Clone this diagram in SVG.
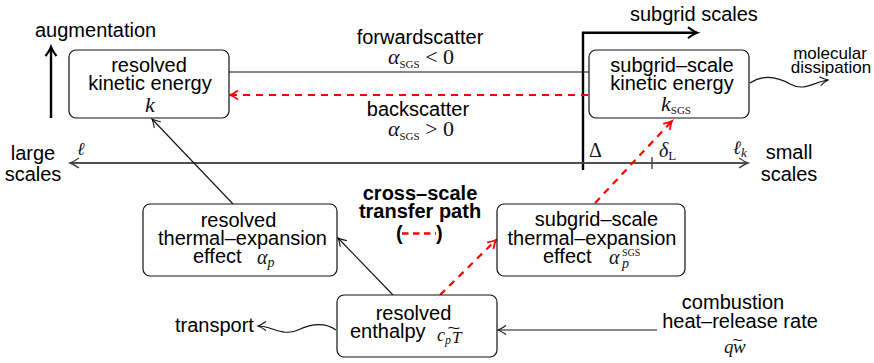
<svg xmlns="http://www.w3.org/2000/svg" width="874" height="363" viewBox="0 0 874 363">
<style>
.t{font-family:"Liberation Sans",Arial,sans-serif;font-size:20px;fill:#000}
.c{text-anchor:middle}
.b{font-weight:bold}
.m{font-family:"Liberation Serif","DejaVu Serif",serif;font-style:italic;font-size:22px;fill:#111}
.rm{font-style:normal}
.box{fill:#fff;stroke:#111;stroke-width:1.2}
.thin{fill:none;stroke:#111;stroke-width:1.1}
.thick{fill:none;stroke:#000;stroke-width:2.4}
.red{fill:none;stroke:#f00;stroke-width:2.2;stroke-dasharray:7 6}
.axis{fill:none;stroke:#444;stroke-width:1.4}
</style>
<defs>
<marker id="aThin" markerUnits="userSpaceOnUse" viewBox="-12 -7 14 14" markerWidth="14" markerHeight="14" refX="0" refY="0" orient="auto" overflow="visible">
<path d="M-8,-4.5 Q-3,-1 0,0 Q-3,1 -8,4.5" fill="none" stroke="#111" stroke-width="1.1"/>
</marker>
<marker id="aRed" markerUnits="userSpaceOnUse" viewBox="-12 -7 14 14" markerWidth="14" markerHeight="14" refX="0" refY="0" orient="auto" overflow="visible">
<path d="M-8,-4.5 Q-3,-1 0,0 Q-3,1 -8,4.5" fill="none" stroke="#f00" stroke-width="1.8"/>
</marker>
<marker id="aThick" markerUnits="userSpaceOnUse" viewBox="-12 -7 14 14" markerWidth="14" markerHeight="14" refX="0" refY="0" orient="auto" overflow="visible">
<path d="M-9,-5.5 Q-3,-1 0,0 Q-3,1 -9,5.5" fill="none" stroke="#000" stroke-width="2.2"/>
</marker>
<marker id="aGray" markerUnits="userSpaceOnUse" viewBox="-12 -7 14 14" markerWidth="14" markerHeight="14" refX="0" refY="0" orient="auto" overflow="visible">
<path d="M-9,-5 Q-3,-1 0,0 Q-3,1 -9,5" fill="none" stroke="#444" stroke-width="1.4"/>
</marker>
</defs>
<rect width="874" height="363" fill="#fff"/>

<g id="connectors">
<path class="thick" d="M51,118 L51,47" marker-end="url(#aThick)"/>
<path class="thick" d="M583,170 L583,32.7 L697,32.7" marker-end="url(#aThick)"/>
<path class="thin" d="M229,72 L589,72"/>
<path class="red" d="M588,95 L230,95" marker-end="url(#aRed)"/>
<path class="axis" d="M748,163 L70,163" marker-end="url(#aGray)"/>
<path class="axis" d="M70,163 L748,163" marker-end="url(#aGray)"/>
<path class="axis" d="M652,157 L652,169"/>
<path class="thin" d="M233,204 L152,119" marker-end="url(#aThin)"/>
<path class="thin" d="M393,295 L338,238" marker-end="url(#aThin)"/>
<path class="red" d="M440,295 L496,240" marker-end="url(#aRed)"/>
<path class="red" d="M595,203 L672,121" marker-end="url(#aRed)"/>
<path class="thin" d="M657,330 L498,330" marker-end="url(#aThin)"/>
<path class="thin" d="M750,83 C762,75 776,76 790,84 S814,82 828,80" marker-end="url(#aThin)"/>
<path class="thin" d="M336,330 C325,322 313,323 298,330 S272,326 258,326" marker-end="url(#aThin)"/>
</g>

<g id="labels">
<text class="t" x="35" y="37">augmentation</text>
<text class="t c" x="420" y="44">forwardscatter</text>
<text class="m c" x="421" y="64">α<tspan class="rm" font-size="11" dy="4">SGS</tspan><tspan class="rm" dy="-4"> &lt; 0</tspan></text>
<text class="t c" x="418" y="116">backscatter</text>
<text class="m c" x="421" y="136">α<tspan class="rm" font-size="11" dy="4">SGS</tspan><tspan class="rm" dy="-4"> &gt; 0</tspan></text>
<text class="t" x="630" y="21">subgrid scales</text>
<text class="t c" x="830" y="59" style="font-size:17px">molecular</text>
<text class="t c" x="831" y="73" style="font-size:17px">dissipation</text>
<text class="t c" x="33" y="160">large</text>
<text class="t c" x="33" y="181">scales</text>
<text class="t c" x="789" y="159">small</text>
<text class="t c" x="789" y="181">scales</text>
<text class="m" x="77" y="155" style="font-size:18px">ℓ</text>
<text class="m" x="733" y="154" style="font-size:19px">ℓ<tspan font-size="13" dy="3">k</tspan></text>
<text class="m rm" x="589" y="157" style="font-size:20px">Δ</text>
<text class="m" x="659" y="157" style="font-size:20px">δ<tspan class="rm" font-size="13" dy="3">L</tspan></text>
<text class="t c b" x="420" y="200">cross–scale</text>
<text class="t c b" x="420" y="218">transfer path</text>
<text class="t b" x="396" y="240">(</text>
<text class="t b" x="436" y="240">)</text>
<path d="M402,233.5 L436,233.5" fill="none" stroke="#f00" stroke-width="2.4" stroke-dasharray="6.5 4.5"/>
<text class="t" x="175" y="332">transport</text>
<text class="t c" x="733" y="309">combustion</text>
<text class="t c" x="740" y="328">heat–release rate</text>
<text class="m" x="724" y="353" style="font-size:19px">q</text>
<text class="m" x="733" y="353" style="font-size:19px">w</text>
<text class="t" x="734" y="345" style="font-size:14px" transform="translate(740 0) scale(1.3 1) translate(-740 0)">~</text>
</g>

<g id="node-resolved-ke">
<rect class="box" x="69" y="50" width="160" height="68" rx="7"/>
<text class="t c" x="149" y="71.5">resolved</text>
<text class="t c" x="150" y="89.5">kinetic energy</text>
<text class="m" x="145" y="112">k</text>
</g>

<g id="node-sgs-ke">
<rect class="box" x="589" y="50" width="160" height="68" rx="7"/>
<text class="t c" x="672" y="71.5">subgrid–scale</text>
<text class="t c" x="672" y="89.5">kinetic energy</text>
<text class="m" x="661" y="111">k<tspan class="rm" font-size="11" dy="3">SGS</tspan></text>
</g>

<g id="node-resolved-te">
<rect class="box" x="143" y="204" width="194" height="72" rx="7"/>
<text class="t c" x="238.5" y="227">resolved</text>
<text class="t c" x="242.5" y="245">thermal–expansion</text>
<text class="t" x="193" y="263">effect</text>
<text class="m" x="257" y="264" style="font-size:20px">α<tspan font-size="14" dy="3">p</tspan></text>
</g>

<g id="node-sgs-te">
<rect class="box" x="497" y="204" width="188" height="72" rx="7"/>
<text class="t c" x="596.5" y="226">subgrid–scale</text>
<text class="t c" x="592" y="245">thermal–expansion</text>
<text class="t" x="543" y="263">effect</text>
<text class="m" x="609" y="264" style="font-size:20px">α</text>
<text class="m" x="622" y="268" style="font-size:14px">p</text>
<text class="m rm" x="622" y="256" style="font-size:10px">SGS</text>
</g>

<g id="node-enthalpy">
<rect class="box" x="337" y="295" width="160" height="62" rx="7"/>
<text class="t c" x="413.5" y="320">resolved</text>
<text class="t" x="350" y="338">enthalpy</text>
<text class="m" x="437" y="341" style="font-size:18px">c<tspan font-size="12" dy="3">p</tspan></text>
<text class="m" x="452" y="343" style="font-size:17px">T</text>
<text class="t" x="452" y="333" style="font-size:14px" transform="translate(460 0) scale(1.6 1) translate(-460 0)">~</text>
</g>
</svg>
